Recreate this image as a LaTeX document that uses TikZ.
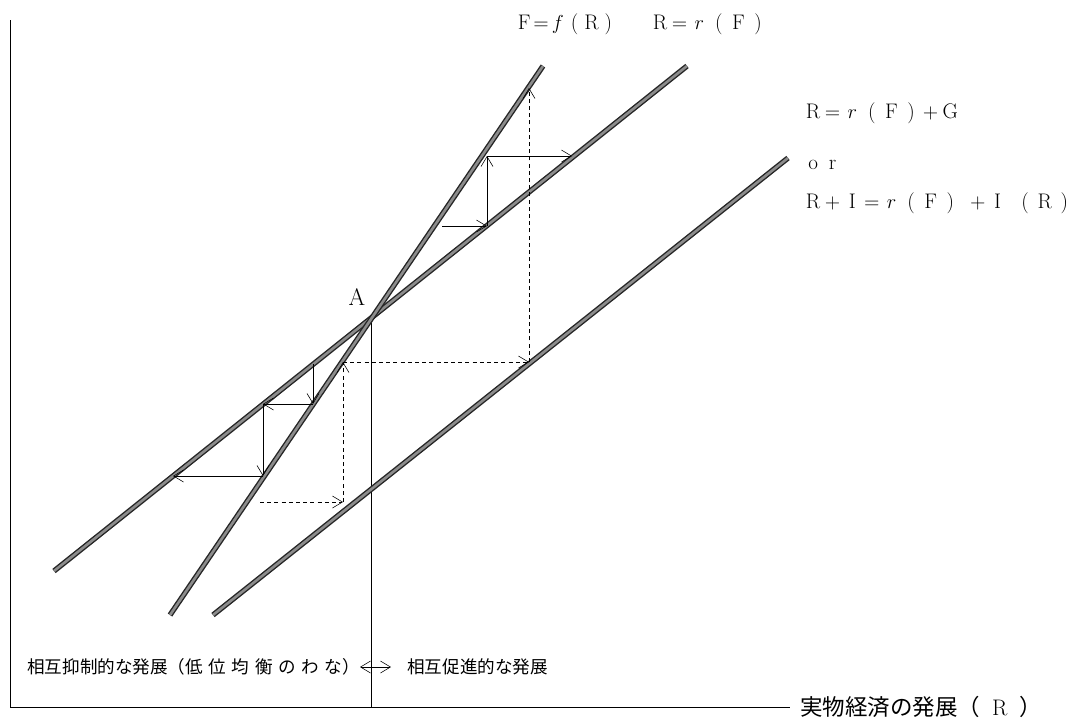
\documentclass[tikz,border=0pt]{standalone}
\usepackage{fontspec}
\newfontfamily\jpfont{Noto Sans CJK JP}
\usetikzlibrary{arrows.meta}
\newcommand{\zw}[2][4.9mm]{\makebox[#1]{#2}}

\begin{document}
\begin{tikzpicture}[x=0.25mm, y=-0.25mm, >={Straight Barb[length=2.5mm,width=3mm]},
    font=\fontsize{15}{17}\selectfont,
    curve/.style={draw=black!85, double=black!45, line width=0.35mm, double distance=0.65mm},
    axis/.style={line width=0.5pt},
    move/.style={->, line width=0.4pt},
    guide/.style={move, dash pattern=on 1mm off 0.8mm},
    both/.style={<->, line width=0.4pt},
    eqn/.style={inner sep=0pt},
    jp/.style={inner sep=0pt, font=\jpfont\fontsize{12.5}{14}\selectfont}
  ]
  \useasboundingbox (0,0) rectangle (1077,719);

  % axes and the line down from A
  \coordinate (ytop) at (10,20);
  \coordinate (orig) at (10,707);
  \coordinate (xend) at (790,707);
  \coordinate (A) at (371,318);
  \coordinate (Abase) at (371,707);
  \draw[axis] (ytop) -- (orig) -- (xend);
  \draw[axis] (A) -- (Abase);

  % F=f(R), R=r(F), R=r(F)+G
  \coordinate (f0) at (170,615); \coordinate (f1) at (543,66);
  \coordinate (r0) at (54,571);  \coordinate (r1) at (687,66);
  \coordinate (g0) at (213,615); \coordinate (g1) at (788,158);
  \draw[curve] (r0) -- (r1);
  \draw[curve] (g0) -- (g1);
  \draw[curve] (f0) -- (f1);

  % low equilibrium trap
  \coordinate (p1) at (313,364);
  \coordinate (p2) at (313,404);
  \coordinate (p3) at (263,404);
  \coordinate (p4) at (263,476);
  \coordinate (p5) at (173,476);
  \draw[move] (p1) -- (p2);
  \draw[move] (p2) -- (p3);
  \draw[move] (p3) -- (p4);
  \draw[move] (p4) -- (p5);

  % mutual promotion
  \coordinate (u0) at (442,226);
  \coordinate (u1) at (487,226);
  \coordinate (u2) at (487,156);
  \coordinate (u3) at (572,156);
  \draw[move] (u0) -- (u1);
  \draw[move] (u1) -- (u2);
  \draw[move] (u2) -- (u3);

  % shift by G
  \coordinate (q0) at (260,502);
  \coordinate (q1) at (343,502);
  \coordinate (q2) at (343,362);
  \coordinate (q3) at (529,362);
  \coordinate (q4) at (529,88);
  \draw[guide] (q0) -- (q1);
  \draw[guide] (q1) -- (q2);
  \draw[guide] (q2) -- (q3);
  \draw[guide] (q3) -- (q4);

  % labels
  \node[font=\fontsize{17}{19}\selectfont, inner sep=0pt] (Alab) at (357,297) {A};
  \node[eqn, anchor=east] (ffr) at (617,24)
    {\zw[4.2mm]{F}\zw[4.2mm]{$=$}\zw[4.2mm]{$f$}\zw[4.2mm]{(}\zw[4.2mm]{R}\zw[4.2mm]{)}};
  \node[eqn, anchor=west] (rrf) at (650,24)
    {\zw{R}\zw{$=$}\zw{$r$}\zw{(}\zw{F}\zw{)}};
  \node[eqn, anchor=west] (rrg) at (803,113)
    {\zw{R}\zw{$=$}\zw{$r$}\zw{(}\zw{F}\zw{)}\zw{$+$}\zw{G}};
  \node[eqn, anchor=west] (orw) at (803,165) {\zw{o}\zw{r}};
  \node[eqn, anchor=west] (rig) at (803,203)
    {\zw{R}\zw{$+$}\zw{I}\zw{$=$}\zw{$r$}\zw{(}\zw{F}\zw{)}\hspace{2mm}%
     \zw{$+$}\zw{I}\hspace{2mm}\zw{(}\zw{R}\zw{)}};

  \node[jp, anchor=east] (trap) at (360,667)
    {相互抑制的な発展（低\hspace{1.4mm}位\hspace{1.4mm}均\hspace{1.4mm}衡\hspace{1.4mm}の\hspace{1.4mm}わ\hspace{1.4mm}な）};
  \node[jp, anchor=west] (promo) at (407,667) {相互促進的な発展};
  \draw[both, shorten >=4mm] (trap.east) -- (promo.west);

  \node[anchor=west, inner sep=0pt, font=\fontsize{16}{18}\selectfont] (xlab) at (800,707)
    {{\jpfont 実物経済の発展（}\hspace{3mm}R\hspace{3mm}{\jpfont ）}};
\end{tikzpicture}
\end{document}
